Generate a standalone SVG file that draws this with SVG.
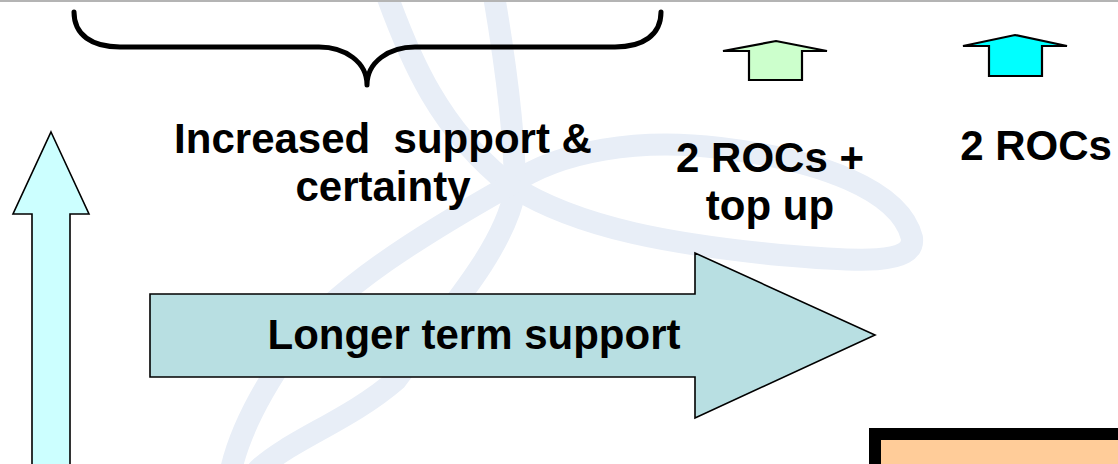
<svg xmlns="http://www.w3.org/2000/svg" width="1118" height="464" viewBox="0 0 1118 464">
  <style>
    .lbl { font-family: "Liberation Sans", Arial, sans-serif; font-weight: bold; font-size: 42px; fill: #000; text-anchor: middle; }
    .wm { fill: none; stroke: #e8eef7; stroke-width: 22; stroke-linecap: round; stroke-linejoin: round; }
    .shape { stroke: #000; stroke-width: 1.6; stroke-linejoin: miter; }
    .small { stroke: #000; stroke-width: 2.2; stroke-linejoin: miter; }
  </style>
  <rect width="1118" height="464" fill="#ffffff"/>
  <g id="watermark">
    <path class="wm" d="M385,-10 C410,60 440,130 510,185"/>
    <path class="wm" d="M510,185 C560,150 640,138 720,148 C820,160 900,190 912,238 C915,265 860,262 780,255 C680,245 580,230 510,185 Z"/>
    <path class="wm" d="M493,-10 C505,60 515,130 515,190 C505,250 440,320 396,380 C350,420 290,440 258,470"/>
    <path class="wm" d="M510,185 C430,230 330,290 290,350 C262,390 240,430 231,470"/>
  </g>
  <line x1="0" y1="1" x2="1118" y2="1" stroke="#b4b4b4" stroke-width="2"/>
  <g id="brace">
    <path d="M74,12 C74,35 92,47 120,47 L319,47 C345,47 367,62 367,85 C367,62 389,47 415,47 L615,47 C643,47 661,35 661,12" fill="none" stroke="#000" stroke-width="5" stroke-linecap="round" stroke-linejoin="round"/>
  </g>
  <g id="up-arrow-left">
    <polygon class="shape" points="51,132 89,214 70,214 70,470 32,470 32,214 13,214" fill="#ccffff"/>
  </g>
  <g id="longer-term-support">
    <polygon class="shape" points="150,294 695,294 695,253 875,335 695,418 695,377 150,377" fill="#b8dfe2"/>
    <text class="lbl" x="474" y="349">Longer term support</text>
  </g>
  <g id="increased-support">
    <text class="lbl" x="383" y="153" xml:space="preserve">Increased  support &amp;</text>
    <text class="lbl" x="383" y="201">certainty</text>
  </g>
  <g id="green-arrow">
    <polygon class="small" points="723,51 776,41 827,51 802,51 802,80 749,80 749,51" fill="#ccffcc"/>
  </g>
  <g id="rocs-top-up">
    <text class="lbl" x="770" y="172">2 ROCs +</text>
    <text class="lbl" x="770" y="220">top up</text>
  </g>
  <g id="cyan-arrow">
    <polygon class="small" points="963,46 1015,35 1067,46 1042,46 1042,76 989,76 989,46" fill="#00ffff"/>
  </g>
  <g id="rocs">
    <text class="lbl" x="1036" y="160">2 ROCs</text>
  </g>
  <g id="orange-box">
    <rect x="875" y="434" width="300" height="100" fill="#ffcc99" stroke="#000" stroke-width="12"/>
  </g>
  <g id="connectors"></g>
</svg>
